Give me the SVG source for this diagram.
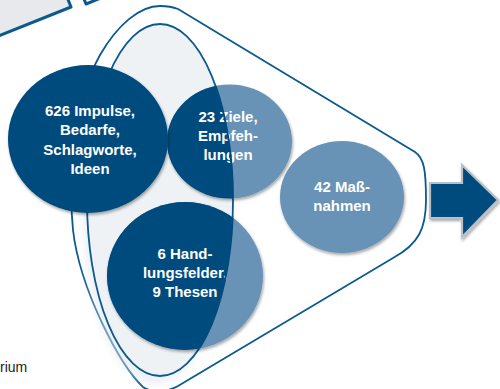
<svg xmlns="http://www.w3.org/2000/svg" width="500" height="389" viewBox="0 0 500 389">
  <defs>
    <style>
      .line { fill: none; stroke: #0b5a8e; stroke-width: 1.8; }
      .dark { fill: #004b7e; }
      .light { fill: #6793b6; }
      .label { font-family: "Liberation Sans", Arial, sans-serif; font-weight: bold; font-size: 15px; fill: #ffffff; text-anchor: middle; }
    </style>
    <filter id="shadow" x="-20%" y="-20%" width="140%" height="140%">
      <feDropShadow dx="1" dy="2" stdDeviation="1.5" flood-color="#000000" flood-opacity="0.35"/>
    </filter>
    <filter id="soft" x="-30%" y="-30%" width="160%" height="160%">
      <feGaussianBlur stdDeviation="4"/>
    </filter>
    <clipPath id="innerClip">
      <ellipse cx="160" cy="200" rx="73" ry="176"/>
    </clipPath>
    <clipPath id="circlesClip">
      <ellipse cx="229.5" cy="141.5" rx="62.5" ry="57"/>
      <ellipse cx="185" cy="276" rx="78" ry="74"/>
    </clipPath>
  </defs>

  <!-- tilted panels at the top left edge -->
  <g id="panels">
    <polygon points="71,7 -119,83 -135,43 55,-33" fill="#e7e9ed" stroke="#0b5a8e" stroke-width="3" stroke-linejoin="round"/>
    <polyline points="82,-6 86,4 128,-13" fill="#ffffff" stroke="#0b5a8e" stroke-width="3" stroke-linejoin="round"/>
  </g>

  <text x="0" y="372" font-family="'Liberation Sans', Arial, sans-serif" font-size="14" fill="#222222">rium</text>

  <!-- outer funnel -->
  <g id="funnel">
    <path class="line" d="M 178,9 L 415,152 C 424,158 426,170 426,200 C 426,228 419,244 393,258 L 178,386 C 165,393 152,393 143,387 C 120,365 80,290 73,230 C 68,180 75,100 100,55 C 118,24 140,6 160,6 C 168,6 173,7 178,9 Z"/>
  </g>

  <!-- inner ellipse -->
  <g id="inner">
    <ellipse cx="156" cy="208" rx="73" ry="176" fill="#e4eaef" opacity="0.7" filter="url(#soft)"/>
    <ellipse cx="160" cy="200" rx="73" ry="176" fill="#eef2f5" stroke="#0b5a8e" stroke-width="1.8"/>
  </g>

  <!-- nodes -->
  <g id="node-ziele">
    <ellipse class="light" cx="229.5" cy="141.5" rx="62.5" ry="57" filter="url(#shadow)"/>
    <ellipse class="dark" cx="229.5" cy="141.5" rx="62.5" ry="57" clip-path="url(#innerClip)"/>
    <text class="label" x="228" y="122">23 Ziele,</text>
    <text class="label" x="228" y="141">Empfeh-</text>
    <text class="label" x="228" y="160">lungen</text>
  </g>

  <g id="node-handlungsfelder">
    <ellipse class="light" cx="185" cy="276" rx="78" ry="74" filter="url(#shadow)"/>
    <ellipse class="dark" cx="185" cy="276" rx="78" ry="74" clip-path="url(#innerClip)"/>
    <text class="label" x="185" y="259">6 Hand-</text>
    <text class="label" x="185" y="278">lungsfelder,</text>
    <text class="label" x="185" y="297">9 Thesen</text>
  </g>

  <!-- seam of the inner ellipse across the two circles -->
  <g id="seam" clip-path="url(#circlesClip)">
    <ellipse cx="160" cy="200" rx="73" ry="176" fill="none" stroke="#004b7e" stroke-width="2"/>
  </g>

  <g id="node-impulse">
    <ellipse class="dark" cx="88" cy="139" rx="80" ry="74" filter="url(#shadow)"/>
    <text class="label" x="90" y="116">626 Impulse,</text>
    <text class="label" x="90" y="135">Bedarfe,</text>
    <text class="label" x="90" y="155">Schlagworte,</text>
    <text class="label" x="90" y="174">Ideen</text>
  </g>

  <g id="node-massnahmen">
    <ellipse class="light" cx="342" cy="197" rx="62" ry="56" filter="url(#shadow)"/>
    <text class="label" x="342" y="192">42 Maß-</text>
    <text class="label" x="342" y="211">nahmen</text>
  </g>

  <!-- output arrow -->
  <g id="arrow">
    <polygon points="430,183 462,183 462,165 498,200 462,237 462,218 430,218" fill="#004b7e" stroke="#b9bfc7" stroke-width="2.2" stroke-linejoin="miter" filter="url(#shadow)"/>
  </g>
</svg>
